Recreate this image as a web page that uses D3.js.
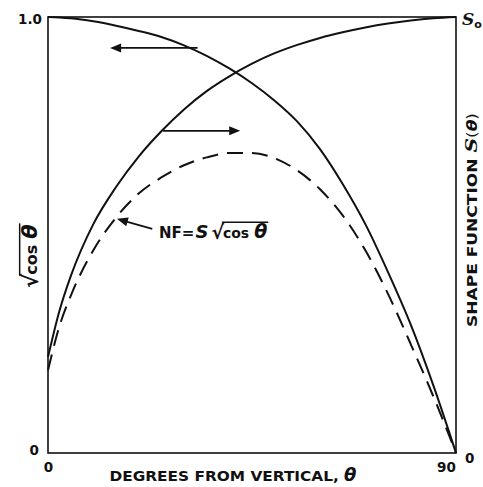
<!DOCTYPE html>
<html>
<head>
<meta charset="utf-8">
<script src="https://cdn.jsdelivr.net/npm/d3@7"></script>
<style>
  html, body { margin: 0; padding: 0; background: #fff; }
  svg { display: block; }
  text { font-family: "DejaVu Sans", sans-serif; font-weight: bold; fill: #111; }
</style>
</head>
<body>
<svg id="chart" width="483" height="487"></svg>
<script>
// Angle from vertical, degrees
const thetaDeg = [0, 2.5, 5, 10, 15, 20, 25, 30, 35, 40, 45, 50, 55, 60, 65, 70, 75, 80, 85, 90];
// sqrt(cos θ), left axis
const sqrtCos  = [1.000, 0.999, 0.997, 0.990, 0.980, 0.968, 0.954, 0.935, 0.911, 0.882, 0.848, 0.808, 0.760, 0.697, 0.617, 0.525, 0.415, 0.295, 0.155, 0.000];
// shape function S(θ) relative to S0, right axis
const shapeFn  = [0.220, 0.325, 0.405, 0.525, 0.610, 0.680, 0.738, 0.788, 0.830, 0.864, 0.893, 0.917, 0.936, 0.952, 0.965, 0.976, 0.985, 0.992, 0.997, 1.000];
// NF = S * sqrt(cos θ)
const nfValues = [0.190, 0.290, 0.360, 0.465, 0.540, 0.595, 0.632, 0.660, 0.678, 0.688, 0.688, 0.676, 0.648, 0.605, 0.545, 0.465, 0.365, 0.250, 0.130, 0.000];

const xTicks = [0, 90];
const xTickLabels = ["0", "90"];
const leftTicks = [0, 1];
const leftTickLabels = ["0", "1.0"];

const svg = d3.select("#chart");
const m = { left: 48, right: 456, top: 17, bottom: 453 };

const x = d3.scaleLinear().domain([0, 90]).range([m.left, m.right]);
const y = d3.scaleLinear().domain([0, 1]).range([m.bottom, m.top]);

// frame
svg.append("rect")
  .attr("x", m.left).attr("y", m.top)
  .attr("width", m.right - m.left).attr("height", m.bottom - m.top)
  .attr("fill", "none").attr("stroke", "#111").attr("stroke-width", 1.6);

// axes: labels only, the frame carries the lines
const xAxis = svg.append("g").attr("transform", `translate(0,${m.bottom})`)
  .call(d3.axisBottom(x).tickValues(xTicks).tickSize(0).tickPadding(9)
        .tickFormat((d, i) => xTickLabels[i]));
xAxis.select(".domain").remove();
xAxis.selectAll("text").attr("font-size", 13.5).attr("font-family", "DejaVu Sans").attr("font-weight", "bold")
  .attr("dx", (d, i) => i === 1 ? -10 : 0);

const yAxis = svg.append("g").attr("transform", `translate(${m.left},0)`)
  .call(d3.axisLeft(y).tickValues(leftTicks).tickSize(0).tickPadding(6)
        .tickFormat((d, i) => leftTickLabels[i]));
yAxis.select(".domain").remove();
yAxis.selectAll("text").attr("font-size", 13.5).attr("font-family", "DejaVu Sans").attr("font-weight", "bold")
  .attr("dx", (d, i) => i === 0 ? -3 : 0)
  .attr("dy", (d, i) => i === 0 ? "0.1em" : "0.45em");

const yAxisR = svg.append("g").attr("transform", `translate(${m.right},0)`)
  .call(d3.axisRight(y).tickValues([0]).tickSize(0).tickPadding(9).tickFormat(() => "0"));
yAxisR.select(".domain").remove();
yAxisR.selectAll("text").attr("font-size", 13.5).attr("font-family", "DejaVu Sans").attr("font-weight", "bold")
  .attr("dy", "0.7em");

// S0 at top of right axis
const s0 = svg.append("text").attr("x", m.right + 6).attr("y", y(1) + 8);
s0.append("tspan").text("S").attr("font-family", "DejaVu Serif").attr("font-style", "italic")
  .attr("font-size", 17);
s0.append("tspan").text("o").attr("font-size", 11).attr("dy", 3);

// curves
const line = (vals) => d3.line()
  .x((d, i) => x(thetaDeg[i]))
  .y(d => y(d))
  .curve(d3.curveMonotoneX)(vals);

svg.append("path").attr("d", line(sqrtCos))
  .attr("fill", "none").attr("stroke", "#111").attr("stroke-width", 2);
svg.append("path").attr("d", line(shapeFn))
  .attr("fill", "none").attr("stroke", "#111").attr("stroke-width", 2);
svg.append("path").attr("d", line(nfValues))
  .attr("fill", "none").attr("stroke", "#111").attr("stroke-width", 2)
  .attr("stroke-dasharray", "16,9");

// arrows, given in data units
function arrow(t0, v0, t1, v1) {
  const x0 = x(t0), y0 = y(v0), x1 = x(t1), y1 = y(v1);
  const a = Math.atan2(y1 - y0, x1 - x0);
  const L = 11, W = 4.5;
  svg.append("line").attr("x1", x0).attr("y1", y0)
    .attr("x2", x1 - Math.cos(a) * (L - 2)).attr("y2", y1 - Math.sin(a) * (L - 2))
    .attr("stroke", "#111").attr("stroke-width", 1.8);
  const bx = x1 - Math.cos(a) * L, by = y1 - Math.sin(a) * L;
  const px = -Math.sin(a) * W, py = Math.cos(a) * W;
  svg.append("path")
    .attr("d", `M${x1},${y1}L${bx + px},${by + py}L${bx - px},${by - py}Z`)
    .attr("fill", "#111");
}
arrow(33.0, 0.929, 13.7, 0.929);
arrow(25.4, 0.739, 42.4, 0.739);
arrow(23.0, 0.514, 15.2, 0.537);

// text with a radical sign and overbar over the radicand
function radical(g, x0, y0, prefixParts, radicand, fs) {
  let cx = x0;
  prefixParts.forEach(p => {
    const t = g.append("text").attr("x", cx).attr("y", y0).attr("font-size", p.size || fs)
      .attr("font-family", p.family || "DejaVu Sans")
      .attr("font-style", p.italic ? "italic" : null).text(p.text);
    cx += t.node().getComputedTextLength() + (p.gap || 0);
  });
  const rs = g.append("text").attr("x", cx).attr("y", y0 + fs * 0.08).attr("font-size", fs * 1.25)
    .attr("font-weight", "normal").text("\u221A");
  const rw = rs.node().getComputedTextLength();
  cx += rw - 1;
  const startBar = cx - 1;
  radicand.forEach(p => {
    const t = g.append("text").attr("x", cx).attr("y", y0).attr("font-size", p.size || fs)
      .attr("font-family", p.family || "DejaVu Sans")
      .attr("font-style", p.italic ? "italic" : null).text(p.text);
    cx += t.node().getComputedTextLength() + (p.gap || 0);
  });
  g.append("line").attr("x1", startBar).attr("x2", cx + 1)
    .attr("y1", y0 - fs * 1.02).attr("y2", y0 - fs * 1.02)
    .attr("stroke", "#111").attr("stroke-width", 1.5);
}

// NF label
radical(svg.append("g"), x(24.5), y(0.494), [
  { text: "NF=", size: 15, gap: 1 },
  { text: "S", family: "DejaVu Serif", italic: true, size: 18, gap: 3 }
], [
  { text: "cos", size: 14, gap: 5 },
  { text: "\u03B8", italic: true, size: 19 }
], 15);

// left axis title
const gl = svg.append("g").attr("transform", "translate(37,288) rotate(-90)");
radical(gl, 0, 0, [], [
  { text: "cos", size: 16, gap: 6 },
  { text: "\u03B8", italic: true, size: 21 }
], 17);

// right axis title
const gr = svg.append("g").attr("transform", "translate(477,220) rotate(-90)");
const rt = gr.append("text").attr("text-anchor", "middle").attr("font-size", 13.5)
  .attr("textLength", 214).attr("lengthAdjust", "spacingAndGlyphs");
rt.append("tspan").text("SHAPE FUNCTION ");
rt.append("tspan").text("S").attr("font-family", "DejaVu Serif").attr("font-style", "italic").attr("font-size", 16);
rt.append("tspan").text("(").attr("font-weight", "normal");
rt.append("tspan").text("\u03B8").attr("font-style", "italic");
rt.append("tspan").text(")").attr("font-weight", "normal");

// x axis title
const xt = svg.append("text").attr("x", 233).attr("y", 481).attr("text-anchor", "middle")
  .attr("font-size", 14.5).attr("textLength", 247).attr("lengthAdjust", "spacingAndGlyphs");
xt.append("tspan").text("DEGREES FROM VERTICAL, ");
xt.append("tspan").text("\u03B8").attr("font-style", "italic").attr("font-size", 17);
</script>
</body>
</html>
